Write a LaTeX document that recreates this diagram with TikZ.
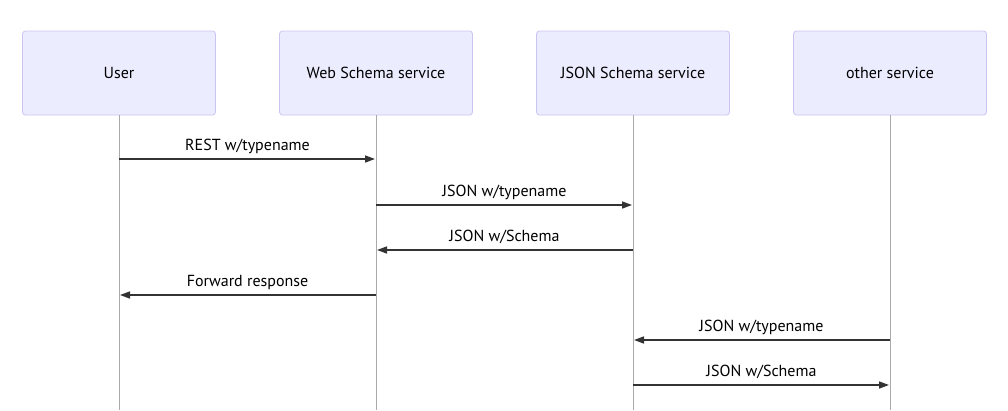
\documentclass[tikz,border=0pt]{standalone}
\usepackage{fontspec}
\setmainfont{PT Sans}
\usetikzlibrary{positioning, arrows.meta}

\definecolor{actorfill}{HTML}{ECECFF}
\definecolor{actordraw}{HTML}{CCC4F0}
\definecolor{lifegray}{HTML}{AAAAAA}
\definecolor{msgdark}{HTML}{333333}

\tikzset{
	actor/.style={draw=actordraw, fill=actorfill, rounded corners=3pt, line width=0.8pt,
		minimum width=193pt, minimum height=84pt, inner sep=0pt, font=\fontsize{16}{18}\selectfont},
	lifeline/.style={draw=lifegray, line width=0.8pt},
	msg/.style={draw=msgdark, line width=1.5pt, -{Triangle[length=10pt, width=7pt]}, shorten >=1pt},
	msglabel/.style={midway, anchor=base, yshift=9pt, text=black, font=\fontsize{16}{18}\selectfont}
}

\begin{document}
\begin{tikzpicture}[x=1pt, y=-1pt]
	% --- OBSZAR RYSUNKU ---
	\useasboundingbox (0,0) rectangle (1008,410);
	\fill[white] (0,0) rectangle (1008,410);

	% --- UCZESTNICY ---
	\node[actor] (user) at (119,73) {User};
	\node[actor] (web) at (376,73) {Web Schema service};
	\node[actor] (json) at (633,73) {JSON Schema service};
	\node[actor] (other) at (890,73) {other service};

	% Linie życia + punkty wiadomości
	\foreach \who/\xx in {user/119, web/376, json/633, other/890} {
		\coordinate (\who-end) at (\xx,410);
		\foreach \row/\yy in {1/159, 2/205, 3/250, 4/295, 5/340, 6/385}
			\coordinate (\who-\row) at (\xx,\yy);
	}
	\foreach \who in {user, web, json, other}
		\draw[lifeline] (\who.south) -- (\who-end);

	% --- WIADOMOŚCI ---
	\draw[msg] (user-1) -- (web-1) node[msglabel] {REST w/typename};
	\draw[msg] (web-2) -- (json-2) node[msglabel] {JSON w/typename};
	\draw[msg] (json-3) -- (web-3) node[msglabel] {JSON w/Schema};
	\draw[msg] (web-4) -- (user-4) node[msglabel] {Forward response};
	\draw[msg] (other-5) -- (json-5) node[msglabel] {JSON w/typename};
	\draw[msg] (json-6) -- (other-6) node[msglabel] {JSON w/Schema};

\end{tikzpicture}
\end{document}
